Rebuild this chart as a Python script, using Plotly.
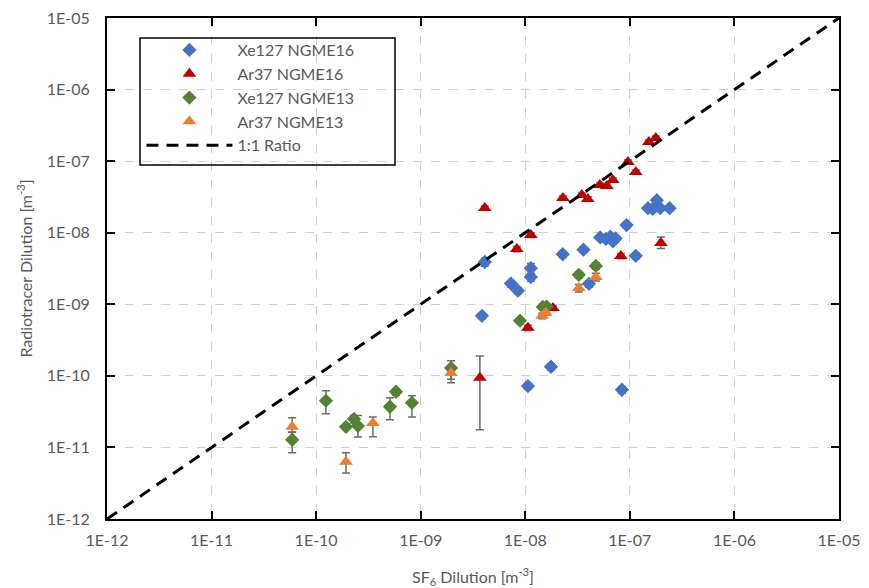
import math
import plotly.graph_objects as go

# ---------------- data ----------------
xe16_x = [4.1e-9, 3.85e-9, 7.3e-9, 8.5e-9, 1.13e-8, 1.13e-8, 2.28e-8, 3.6e-8,
          5.2e-8, 5.9e-8, 6.5e-8, 6.9e-8, 7.3e-8, 9.3e-8, 1.14e-7,
          1.49e-7, 1.65e-7, 1.81e-7, 1.95e-7, 2.4e-7, 4.06e-8,
          1.06e-8, 1.76e-8, 8.4e-8]
xe16_y = [3.9e-9, 6.9e-10, 1.95e-9, 1.55e-9, 3.2e-9, 2.4e-9, 5.0e-9, 5.8e-9,
          8.6e-9, 8.2e-9, 8.8e-9, 7.6e-9, 8.3e-9, 1.28e-8, 4.75e-9,
          2.2e-8, 2.15e-8, 2.85e-8, 2.2e-8, 2.2e-8, 1.93e-9,
          7.2e-11, 1.34e-10, 6.4e-11]
xe16_ep = [0.5e-9, 0.6e-10, 0.2e-9, 0.15e-9, 0.5e-9, 0.3e-9, 0.5e-9, 0.5e-9,
           0.7e-9, 0.7e-9, 0.7e-9, 0.6e-9, 0.7e-9, 1.2e-9, 0.4e-9,
           1.8e-9, 1.8e-9, 2.2e-9, 1.8e-9, 1.8e-9, 0.2e-9,
           0.7e-11, 1.2e-11, 0.7e-11]
xe16_em = xe16_ep

ar16_x = [4.1e-9, 8.3e-9, 1.13e-8, 1.06e-8, 1.84e-8, 2.29e-8, 3.47e-8, 3.96e-8,
          5.16e-8, 6.03e-8, 6.87e-8, 9.57e-8, 1.14e-7, 1.52e-7, 1.77e-7,
          8.2e-8, 1.98e-7, 3.68e-9]
ar16_y = [2.22e-8, 5.9e-9, 9.3e-9, 4.7e-10, 8.9e-10, 3.06e-8, 3.37e-8, 2.97e-8,
          4.65e-8, 4.5e-8, 5.46e-8, 9.75e-8, 7.07e-8, 1.85e-7, 2.11e-7,
          4.74e-9, 7.2e-9, 9.4e-11]
ar16_ep = [1.5e-9, 0.5e-9, 0.7e-9, 0.4e-10, 0.7e-10, 2.0e-9, 2.2e-9, 2.0e-9,
           3.0e-9, 3.0e-9, 3.5e-9, 6.0e-9, 4.5e-9, 1.2e-8, 1.3e-8,
           0.4e-9, 1.5e-9, 9.6e-11]
ar16_em = [1.5e-9, 0.5e-9, 0.7e-9, 0.4e-10, 0.7e-10, 2.0e-9, 2.2e-9, 2.0e-9,
           3.0e-9, 3.0e-9, 3.5e-9, 6.0e-9, 4.5e-9, 1.2e-8, 1.3e-8,
           0.4e-9, 1.2e-9, 7.64e-11]

xe13_x = [5.9e-11, 1.24e-10, 1.93e-10, 2.3e-10, 2.51e-10, 5.08e-10, 5.8e-10,
          8.24e-10, 1.95e-9, 8.9e-9, 1.47e-8, 1.6e-8, 3.25e-8, 4.73e-8]
xe13_y = [1.28e-11, 4.5e-11, 1.94e-11, 2.5e-11, 2.0e-11, 3.7e-11, 6.0e-11,
          4.2e-11, 1.29e-10, 5.9e-10, 9.2e-10, 9.3e-10, 2.58e-9, 3.44e-9]
xe13_ep = [0.35e-11, 1.7e-11, 0.15e-11, 0.3e-11, 0.8e-11, 1.23e-11, 0.6e-11,
           1.06e-11, 0.33e-10, 0.5e-10, 0.8e-10, 0.8e-10, 0.25e-9, 0.35e-9]
xe13_em = [0.44e-11, 1.55e-11, 0.15e-11, 0.3e-11, 0.6e-11, 1.27e-11, 0.6e-11,
           1.53e-11, 0.49e-10, 0.5e-10, 0.8e-10, 0.8e-10, 0.25e-9, 0.35e-9]

ar13_x = [5.9e-11, 1.93e-10, 3.49e-10, 1.95e-9, 1.45e-8, 1.57e-8, 3.25e-8, 4.73e-8]
ar13_y = [1.94e-11, 6.3e-12, 2.2e-11, 1.10e-10, 6.9e-10, 7.6e-10, 1.69e-9, 2.41e-9]
ar13_ep = [0.66e-11, 2.1e-12, 0.47e-11, 0.2e-10, 0.6e-10, 0.6e-10, 0.2e-9, 0.3e-9]
ar13_em = [0.3e-11, 1.9e-12, 0.79e-11, 0.2e-10, 0.6e-10, 0.6e-10, 0.2e-9, 0.3e-9]

ratio_x = [1e-12, 1e-5]
ratio_y = [1e-12, 1e-5]

tick_vals = [1e-12, 1e-11, 1e-10, 1e-9, 1e-8, 1e-7, 1e-6, 1e-5]
tick_text = ["1E-12", "1E-11", "1E-10", "1E-09", "1E-08", "1E-07", "1E-06", "1E-05"]
minor_vals = [m * d for d in tick_vals[:-1] for m in range(2, 10)]

# ---------------- styling ----------------
FONT = "Lato, 'Open Sans', sans-serif"
TXT = "#595959"
ERR = "#6b6b6b"
W, H = 869, 588
ML, MR, MT, MB = 107, 30, 18, 69
PW, PH = W - ML - MR, H - MT - MB

def err(plus, minus):
    return dict(type="data", symmetric=False, array=plus, arrayminus=minus,
                color=ERR, thickness=1.5, width=4)

fig = go.Figure()
fig.add_trace(go.Scatter(x=xe16_x, y=xe16_y, mode="markers", name="Xe127 NGME16",
                         marker=dict(symbol="diamond", size=11, color="#4472C4"),
                         error_y=err(xe16_ep, xe16_em)))
fig.add_trace(go.Scatter(x=ar16_x, y=ar16_y, mode="markers", name="Ar37 NGME16",
                         marker=dict(symbol="triangle-up", size=12, color="#C00000"),
                         error_y=err(ar16_ep, ar16_em)))
fig.add_trace(go.Scatter(x=xe13_x, y=xe13_y, mode="markers", name="Xe127 NGME13",
                         marker=dict(symbol="diamond", size=11, color="#548235"),
                         error_y=err(xe13_ep, xe13_em)))
fig.add_trace(go.Scatter(x=ar13_x, y=ar13_y, mode="markers", name="Ar37 NGME13",
                         marker=dict(symbol="triangle-up", size=12, color="#ED7D31"),
                         error_y=err(ar13_ep, ar13_em)))
fig.add_trace(go.Scatter(x=ratio_x, y=ratio_y, mode="lines", name="1:1 Ratio",
                         line=dict(color="black", width=3, dash="12px,8px")))

axis_common = dict(
    type="log", tickmode="array", tickvals=tick_vals, ticktext=tick_text,
    showline=True, linecolor="black", linewidth=2, mirror="allticks",
    ticks="inside", ticklen=8, tickcolor="black", tickwidth=1.5,
    showgrid=True, gridcolor="#d0d0d0", griddash="dash", gridwidth=1,
    zeroline=False, automargin=False,
    tickfont=dict(family=FONT, size=16, color=TXT),
    range=[-12, -5],
)

# minor ticks (inside, on all four sides); shapes on log axes take log10 coords
tl = 5
tick_line = dict(color="black", width=1.2)
shapes = []
for v in minor_vals:
    lv = math.log10(v)
    shapes.append(dict(type="line", xref="x", yref="paper", x0=lv, x1=lv,
                       y0=0, y1=tl / PH, line=tick_line, layer="above"))
    shapes.append(dict(type="line", xref="x", yref="paper", x0=lv, x1=lv,
                       y0=1, y1=1 - tl / PH, line=tick_line, layer="above"))
    shapes.append(dict(type="line", xref="paper", yref="y", y0=lv, y1=lv,
                       x0=0, x1=tl / PW, line=tick_line, layer="above"))
    shapes.append(dict(type="line", xref="paper", yref="y", y0=lv, y1=lv,
                       x0=1, x1=1 - tl / PW, line=tick_line, layer="above"))
# legend frame
shapes.append(dict(type="rect", xref="paper", yref="paper",
                   x0=(140 - ML) / PW, x1=(395 - ML) / PW,
                   y0=(H - MB - 165) / PH, y1=(H - MB - 38) / PH,
                   line=dict(color="black", width=1.5), layer="above"))

fig.update_layout(
    width=W, height=H,
    margin=dict(l=ML, r=MR, t=MT, b=MB),
    paper_bgcolor="white", plot_bgcolor="white",
    font=dict(family=FONT, color=TXT),
    showlegend=True,
    shapes=shapes,
    legend=dict(x=0.047, y=0.97, xanchor="left", yanchor="top",
                borderwidth=0, bgcolor="rgba(255,255,255,0)",
                font=dict(family=FONT, size=16, color=TXT),
                itemwidth=86, tracegroupgap=0, indentation=0),
    xaxis=dict(axis_common, ticklabelstandoff=6,
               title=dict(text="SF<sub>6</sub> Dilution [m<sup>-3</sup>]",
                          font=dict(family=FONT, size=16, color=TXT), standoff=26)),
    yaxis=dict(axis_common, ticklabelstandoff=12,
               title=dict(text="Radiotracer Dilution [m<sup>-3</sup>]",
                          font=dict(family=FONT, size=16, color=TXT), standoff=10)),
)

fig.write_html("out.html")
